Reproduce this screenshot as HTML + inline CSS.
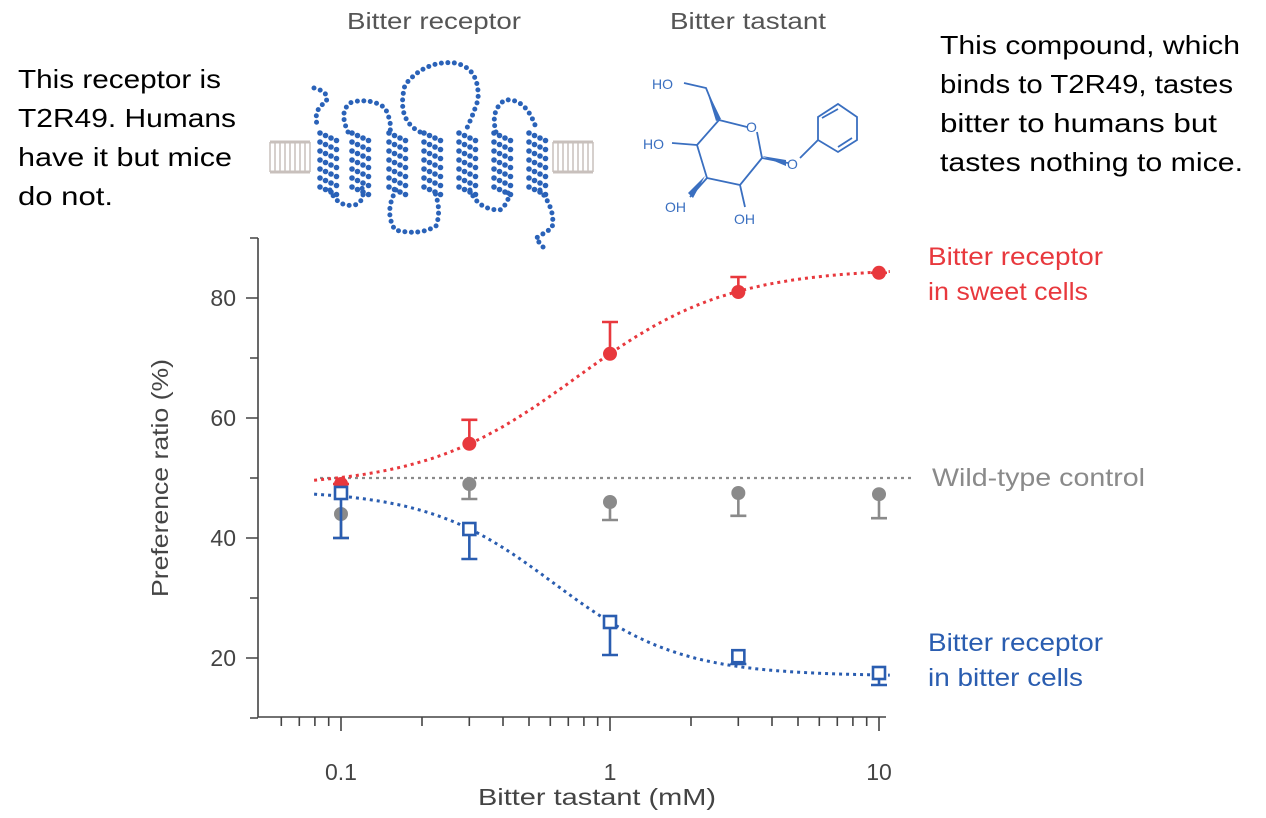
<!DOCTYPE html>
<html><head><meta charset="utf-8"><style>
body{margin:0;background:#fff;}
svg{display:block;font-family:"Liberation Sans","DejaVu Sans",sans-serif;}
</style></head><body>
<svg id="s" width="1266" height="818" viewBox="0 0 1266 818" xmlns="http://www.w3.org/2000/svg">
<rect width="1266" height="818" fill="#fff"/>
<text x="347" y="29" font-size="23" fill="#555" textLength="174" lengthAdjust="spacingAndGlyphs">Bitter receptor</text>
<text x="670" y="29" font-size="23" fill="#555" textLength="156" lengthAdjust="spacingAndGlyphs">Bitter tastant</text>
<g font-size="26" fill="#000" lengthAdjust="spacingAndGlyphs">
<text x="18" y="88" textLength="203" lengthAdjust="spacingAndGlyphs">This receptor is</text>
<text x="18" y="127" textLength="218" lengthAdjust="spacingAndGlyphs">T2R49.  Humans</text>
<text x="18" y="166" textLength="214" lengthAdjust="spacingAndGlyphs">have it but mice</text>
<text x="18" y="205" textLength="95" lengthAdjust="spacingAndGlyphs">do not.</text>
<text x="940" y="54" textLength="300" lengthAdjust="spacingAndGlyphs">This compound, which</text>
<text x="940" y="93" textLength="293" lengthAdjust="spacingAndGlyphs">binds to T2R49, tastes</text>
<text x="940" y="132" textLength="277" lengthAdjust="spacingAndGlyphs">bitter to humans but</text>
<text x="940" y="171" textLength="303" lengthAdjust="spacingAndGlyphs">tastes nothing to mice.</text>
</g>
<g id="mem" stroke="#c8c0bc" stroke-width="1.5"></g>
<g id="rec" fill="#2a62b8"></g>
<g fill="none" stroke="#2a62b8" stroke-width="5" stroke-dasharray="0 6.5" stroke-linecap="round">
<path d="M314 88 Q330 92 326 102 Q312 110 318 128"/>
<path d="M330 190 Q338 208 355 205 Q366 200 362 188"/>
<path d="M348 132 Q338 110 352 102 Q372 98 385 108 Q392 122 390 132"/>
<path d="M396 190 Q384 212 395 230 Q420 236 436 226 Q442 210 434 190"/>
<path d="M420 132 Q396 120 405 85 Q425 60 455 63 Q480 68 478 100 Q472 118 465 132"/>
<path d="M470 190 Q478 210 500 210 Q512 200 507 190"/>
<path d="M496 132 Q490 110 505 100 Q525 98 535 125"/>
<path d="M540 190 Q556 210 552 228 Q540 236 536 238 Q540 244 544 248"/>
</g>
<g stroke="#3a6fc0" stroke-width="1.8" fill="none">
<path d="M684 83 L706 88 L719 120 L747 127 M757 132 L762 158 L788 163 M800 158 L818 140 L818 117 L838 104 L857 117 L857 140 L838 152 L818 140 M822 118 L838 109 M852 138 L838 147 M719 120 L697 145 L707 178 L740 185 L762 158 M697 145 L672 143 M707 178 L690 197 M740 185 L745 207"/>
</g>
<path d="M706 88 L721 119 L716 121 Z M762 156 L786 160 L786 166 Z M705 176 L688 193 L693 198 Z" fill="#3a6fc0"/>
<g font-size="14" fill="#3a6fc0">
<text x="652" y="89">HO</text><text x="746" y="132">O</text><text x="787" y="169">O</text>
<text x="643" y="149">HO</text><text x="665" y="212">OH</text><text x="734" y="224">OH</text>
</g>
<g stroke="#444" stroke-width="1.6" fill="none">
<path d="M258 238 L258 717 L886 717"/>
<path id="ticks" d=""/>
</g>
<g font-size="23" fill="#444">
<text x="236" y="306" text-anchor="end">80</text>
<text x="236" y="426" text-anchor="end">60</text>
<text x="236" y="546" text-anchor="end">40</text>
<text x="236" y="666" text-anchor="end">20</text>
<text x="341" y="780" text-anchor="middle">0.1</text>
<text x="610" y="780" text-anchor="middle">1</text>
<text x="879" y="780" text-anchor="middle">10</text>
<text x="478" y="805" textLength="238" lengthAdjust="spacingAndGlyphs">Bitter tastant (mM)</text>
<text transform="translate(168,478) rotate(-90)" x="-119" textLength="238" lengthAdjust="spacingAndGlyphs">Preference ratio (%)</text>
</g>
<line x1="320" y1="478" x2="912" y2="478" stroke="#8a8a8a" stroke-width="2.2" stroke-dasharray="3 4"/>
<g id="data"></g>
<g font-size="25">
<text x="928" y="265" fill="#e8383d" textLength="175" lengthAdjust="spacingAndGlyphs">Bitter receptor</text>
<text x="928" y="300" fill="#e8383d" textLength="160" lengthAdjust="spacingAndGlyphs">in sweet cells</text>
<text x="932" y="486" fill="#8a8a8a" textLength="213" lengthAdjust="spacingAndGlyphs">Wild-type control</text>
<text x="928" y="651" fill="#2a5db0" textLength="175" lengthAdjust="spacingAndGlyphs">Bitter receptor</text>
<text x="928" y="686" fill="#2a5db0" textLength="155" lengthAdjust="spacingAndGlyphs">in bitter cells</text>
</g>
</svg>
<script>
var NS="http://www.w3.org/2000/svg";
function el(p,t,a){var e=document.createElementNS(NS,t);for(var k in a)e.setAttribute(k,a[k]);p.appendChild(e);return e;}
var mem=document.getElementById('mem');
[[270,310],[553,593]].forEach(function(r){for(var x=r[0];x<=r[1];x+=5){el(mem,'line',{x1:x,y1:142,x2:x,y2:172});}
el(mem,'line',{x1:r[0],y1:142,x2:r[1],y2:142,'stroke-width':3});el(mem,'line',{x1:r[0],y1:172,x2:r[1],y2:172,'stroke-width':3});});
var rec=document.getElementById('rec');
[328,360,397,432,467,502,537].forEach(function(cx){for(var r=0;r<7;r++){var y=133+r*9;for(var j=0;j<4;j++){el(rec,'circle',{cx:cx-8+j*5.5,cy:y+j*2.5,r:2.8});}}});
var X=function(v){return 610+269*Math.log10(v);},Y=function(v){return 778-6*v;};
var tk="";
[0.06,0.07,0.08,0.09,0.1,0.2,0.3,0.4,0.5,0.6,0.7,0.8,0.9,1,2,3,4,5,6,7,8,9,10].forEach(function(v){var x=X(v);var big=(v==0.1||v==1||v==10);tk+="M"+x.toFixed(1)+" 717 L"+x.toFixed(1)+" "+(big?731:726)+" ";});
for(var v=10;v<=90;v+=10){var y=Y(v);tk+="M258 "+y+" L"+(v%20==0?246:250)+" "+y+" ";}
document.getElementById('ticks').setAttribute('d',tk);
var d=document.getElementById('data');
function curve(f,col){var p="";for(var L=-1.1;L<=1.05;L+=0.02){p+=(p?"L":"M")+X(Math.pow(10,L)).toFixed(1)+" "+Y(f(L)).toFixed(1)+" ";}
el(d,'path',{d:p,fill:'none',stroke:col,'stroke-width':3,'stroke-dasharray':'3 4'});}
curve(function(L){return 48.5+36.5/(1+Math.exp(-(L+0.125)/0.283));},'#e8383d');
curve(function(L){return 48-31/(1+Math.exp(-(L+0.21)/0.235));},'#2a5db0');
var xs=[0.1,0.3,1,3,10];
function eb(x,v,e,col){var X0=X(x);el(d,'path',{d:"M"+X0+" "+Y(v)+" L"+X0+" "+Y(e)+" M"+(X0-8)+" "+Y(e)+" L"+(X0+8)+" "+Y(e),stroke:col,'stroke-width':2.6,fill:'none'});}
var gray=[[44,40],[49,46.5],[46,43],[47.5,43.7],[47.3,43.3]];
gray.forEach(function(g,i){eb(xs[i],g[0],g[1],'#8a8a8a');el(d,'circle',{cx:X(xs[i]),cy:Y(g[0]),r:7,fill:'#8a8a8a'});});
var red=[[49,49],[55.7,59.7],[70.7,76],[81,83.5],[84.2,84.2]];
red.forEach(function(g,i){eb(xs[i],g[0],g[1],'#e8383d');el(d,'circle',{cx:X(xs[i]),cy:Y(g[0]),r:7,fill:'#e8383d'});});
var blue=[[47.5,40],[41.5,36.5],[26,20.5],[20.3,19],[17.5,15.5]];
blue.forEach(function(g,i){eb(xs[i],g[0],g[1],'#2a5db0');el(d,'rect',{x:X(xs[i])-6,y:Y(g[0])-6,width:12,height:12,fill:'#fff',stroke:'#2a5db0','stroke-width':2.6});});
</script>
</body></html>
